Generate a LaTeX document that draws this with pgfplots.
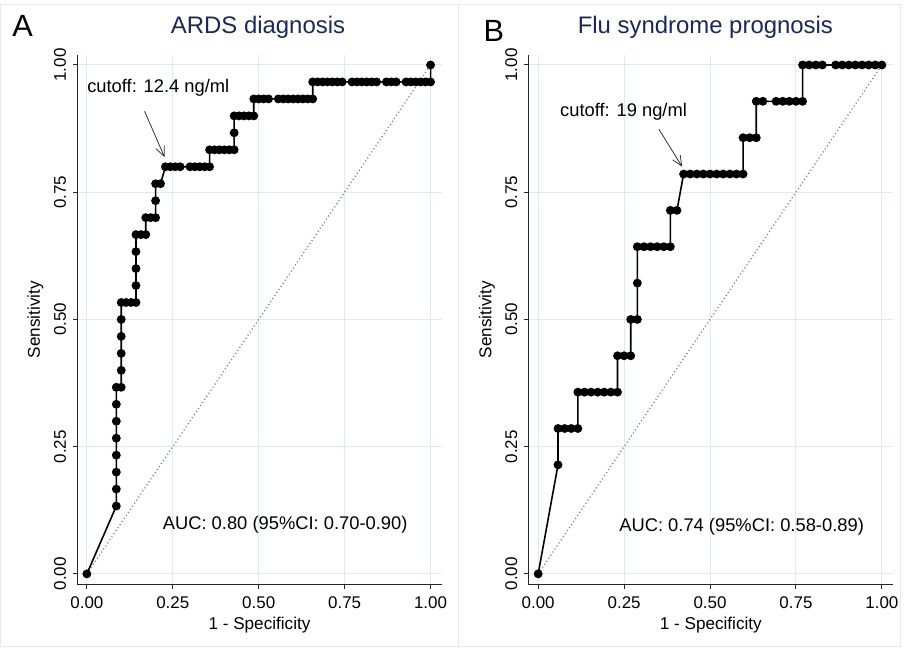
\documentclass[border=0pt]{standalone}
\usepackage{fontspec}
\setmainfont{Liberation Sans}
\usepackage{pgfplots}
\pgfplotsset{compat=1.18}
\usetikzlibrary{arrows.meta}

\definecolor{titleblue}{RGB}{26,40,88}
\definecolor{gridblue}{RGB}{224,235,240}

\pgfplotsset{
  rocstyle/.style={
    scale only axis, width=182.75pt, height=266pt,
    xmin=-0.0275, xmax=1.032, ymin=-0.0215, ymax=1.02,
    axis x line*=bottom, axis y line*=left,
    axis line style={line width=0.5pt, black!85},
    xtick={0,0.25,0.5,0.75,1}, ytick={0,0.25,0.5,0.75,1},
    xticklabels={0.00,0.25,0.50,0.75,1.00},
    yticklabels={0.00,0.25,0.50,0.75,1.00},
    tick align=outside, major tick length=2.2pt,
    tick style={black!85, line width=0.5pt},
    grid=major, grid style={gridblue, line width=0.5pt},
    ticklabel style={font=\fontsize{8.5}{10}\selectfont},
    yticklabel style={rotate=90, anchor=south},
    /pgf/number format/assume math mode=true,
    xlabel={1 - Specificity}, ylabel={Sensitivity},
    label style={font=\fontsize{8.6}{10}\selectfont},
    xlabel style={at={(axis description cs:0.5,-0.075)}, anchor=center},
    ylabel style={at={(axis description cs:-0.115,0.5)}, anchor=center},
    clip=false,
  },
  roc/.style={black, line width=0.8pt, mark=*, mark size=1.8pt, mark options={fill=black}},
  diag/.style={gray, line width=0.65pt, dash pattern=on 0.55pt off 1.3pt},
}
\tikzset{note/.style={anchor=west, inner sep=0pt, font=\fontsize{9.2}{11}\selectfont}}

\begin{document}
\begin{tikzpicture}
\path (0,0) rectangle (452.5pt,325pt);
\draw[gray!18, line width=0.5pt] (0.5pt,0.5pt) rectangle (452pt,322.5pt);
\draw[gray!18, line width=0.5pt] (230pt,0.5pt) -- (230pt,322.5pt);

\node[anchor=base west, inner sep=0pt, font=\fontsize{15.4}{18}\selectfont] at (6pt,306.5pt) {A};
\node[anchor=base west, inner sep=0pt, font=\fontsize{15.4}{18}\selectfont] at (242.5pt,304pt) {B};
\node[anchor=base, inner sep=0pt, text=titleblue, font=\fontsize{12}{14}\selectfont] at (129.5pt,308pt) {ARDS diagnosis};
\node[anchor=base, inner sep=0pt, text=titleblue, font=\fontsize{12}{14}\selectfont] at (354pt,308pt) {Flu syndrome prognosis};

% panel A
\begin{axis}[rocstyle, at={(38.85pt,31.5pt)}, anchor=south west]
\addplot[diag] coordinates {(0,0) (1,1)};
\addplot[roc] coordinates {
(0,0)
(0.0857,0.1333) (0.0857,0.1667) (0.0857,0.2) (0.0857,0.2333) (0.0857,0.2667)
(0.0857,0.3) (0.0857,0.3333) (0.0857,0.3667)
(0.1,0.3667) (0.1,0.4) (0.1,0.4333) (0.1,0.4667) (0.1,0.5) (0.1,0.5333)
(0.1143,0.5333) (0.1286,0.5333) (0.1429,0.5333)
(0.1429,0.5667) (0.1429,0.6) (0.1429,0.6333) (0.1429,0.6667)
(0.1571,0.6667) (0.1714,0.6667) (0.1714,0.7) (0.1857,0.7) (0.2,0.7)
(0.2,0.7333) (0.2,0.7667) (0.2143,0.7667)
(0.2286,0.8) (0.2429,0.8) (0.2571,0.8) (0.2714,0.8)
(0.3,0.8) (0.3143,0.8) (0.3286,0.8) (0.3429,0.8) (0.3571,0.8)
(0.3571,0.8333) (0.3714,0.8333) (0.3857,0.8333) (0.4,0.8333) (0.4143,0.8333) (0.4286,0.8333)
(0.4286,0.8667) (0.4286,0.9)
(0.4429,0.9) (0.4571,0.9) (0.4714,0.9) (0.4857,0.9)
(0.4857,0.9333) (0.5,0.9333) (0.5143,0.9333) (0.5286,0.9333)
(0.5571,0.9333) (0.5714,0.9333) (0.5857,0.9333) (0.6,0.9333) (0.6143,0.9333)
(0.6286,0.9333) (0.6429,0.9333) (0.6571,0.9333)
(0.6571,0.9667) (0.6714,0.9667) (0.6857,0.9667) (0.7,0.9667) (0.7143,0.9667)
(0.7286,0.9667) (0.7429,0.9667) (0.7714,0.9667) (0.7857,0.9667) (0.8,0.9667)
(0.8143,0.9667) (0.8286,0.9667) (0.8429,0.9667) (0.8714,0.9667) (0.8857,0.9667)
(0.9,0.9667) (0.9286,0.9667) (0.9429,0.9667) (0.9571,0.9667) (0.9714,0.9667)
(0.9857,0.9667) (1,0.9667)
(1,1)
};
\node[note] at (axis cs:0,0.955) {cutoff: 12.4 ng/ml};
\draw[black!80, line width=0.4pt, -{Straight Barb[length=5pt,width=4.5pt]}] (axis cs:0.168,0.909) -- (axis cs:0.226,0.819);
\node[note] at (axis cs:0.22,0.097) {AUC: 0.80 (95\%CI: 0.70-0.90)};
\end{axis}

% panel B
\begin{axis}[rocstyle, at={(265.35pt,31.5pt)}, anchor=south west]
\addplot[diag] coordinates {(0,0) (1,1)};
\addplot[roc] coordinates {
(0,0)
(0.0577,0.2143) (0.0577,0.2857) (0.0769,0.2857) (0.0962,0.2857) (0.1154,0.2857)
(0.1154,0.3571) (0.1346,0.3571) (0.1538,0.3571) (0.1731,0.3571) (0.1923,0.3571)
(0.2115,0.3571) (0.2308,0.3571)
(0.2308,0.4286) (0.25,0.4286) (0.2692,0.4286)
(0.2692,0.5) (0.2885,0.5) (0.2885,0.5714) (0.2885,0.6429)
(0.3077,0.6429) (0.3269,0.6429) (0.3462,0.6429) (0.3654,0.6429) (0.3846,0.6429)
(0.3846,0.7143) (0.4038,0.7143)
(0.4231,0.7857) (0.4423,0.7857) (0.4615,0.7857) (0.4808,0.7857) (0.5,0.7857)
(0.5192,0.7857) (0.5385,0.7857) (0.5577,0.7857) (0.5769,0.7857) (0.5962,0.7857)
(0.5962,0.8571) (0.6154,0.8571) (0.6346,0.8571)
(0.6346,0.9286) (0.6538,0.9286) (0.6923,0.9286) (0.7115,0.9286) (0.7308,0.9286)
(0.75,0.9286) (0.7692,0.9286)
(0.7692,1) (0.7885,1) (0.8077,1) (0.8269,1) (0.8654,1) (0.8846,1) (0.9038,1)
(0.9231,1) (0.9423,1) (0.9615,1) (0.9808,1) (1,1)
};
\node[note] at (axis cs:0.063,0.909) {cutoff: 19 ng/ml};
\draw[black!80, line width=0.4pt, -{Straight Barb[length=5pt,width=4.5pt]}] (axis cs:0.351,0.874) -- (axis cs:0.419,0.800);
\node[note] at (axis cs:0.235,0.093) {AUC: 0.74 (95\%CI: 0.58-0.89)};
\end{axis}
\end{tikzpicture}
\end{document}
